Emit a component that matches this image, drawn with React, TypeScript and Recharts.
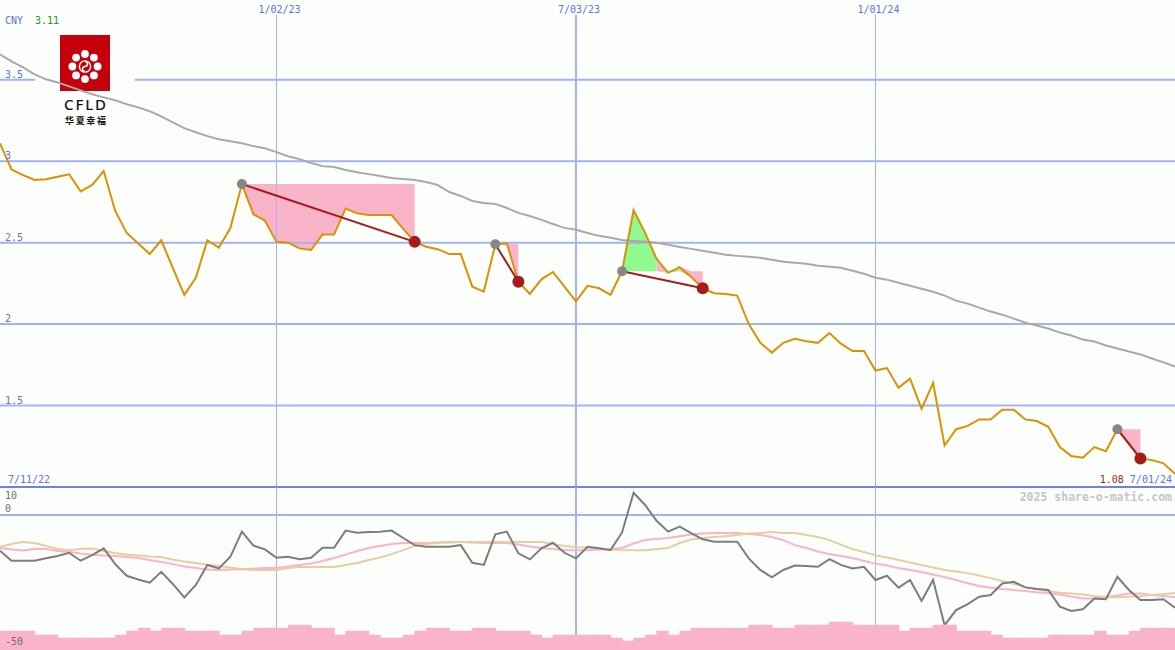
import { Area, Bar, BarChart, ComposedChart, Line, ReferenceLine, XAxis, YAxis } from "recharts";

const MONO = "'DejaVu Sans Mono', monospace";
const BLUE = "#5f70ee";
const GRID = "#a2b2f2";
const BORDER = "#7080e8";
const BG = "#fcfefc";

// weekly points, index 0 = 7/11/22, index 102 = 7/01/24
const dateTicks = [24, 50, 76];
const dateLabels = ["1/02/23", "7/03/23", "1/01/24"];
const priceTicks = [1.5, 2, 2.5, 3, 3.5];
const oscTicks = [10, 0, -50];

const price = [
	3.11, 2.95, 2.915, 2.885, 2.89, 2.905, 2.92, 2.815, 2.855, 2.94,
	2.695, 2.56, 2.495, 2.43, 2.515, 2.345, 2.18, 2.285, 2.515, 2.47,
	2.59, 2.86, 2.675, 2.635, 2.505, 2.5, 2.465, 2.455, 2.55, 2.55,
	2.71, 2.68, 2.67, 2.67, 2.67, 2.585, 2.505, 2.475, 2.46, 2.43,
	2.43, 2.23, 2.2, 2.49, 2.495, 2.26, 2.185, 2.275, 2.32, 2.23,
	2.14, 2.235, 2.22, 2.18, 2.325, 2.7, 2.56, 2.4, 2.315, 2.35,
	2.29, 2.22, 2.19, 2.185, 2.175, 2.0, 1.885, 1.825, 1.885, 1.91,
	1.895, 1.885, 1.945, 1.88, 1.835, 1.835, 1.715, 1.73, 1.61, 1.665,
	1.48, 1.64, 1.255, 1.355, 1.375, 1.415, 1.415, 1.475, 1.475, 1.415,
	1.405, 1.37, 1.245, 1.19, 1.18, 1.245, 1.22, 1.355, 1.265, 1.175,
	1.165, 1.145, 1.08,
];

const priceAvg = [
	3.656, 3.613, 3.576, 3.533, 3.503, 3.484, 3.46, 3.435, 3.411, 3.392,
	3.374, 3.35, 3.331, 3.307, 3.276, 3.239, 3.203, 3.178, 3.154, 3.135,
	3.123, 3.111, 3.093, 3.08, 3.056, 3.031, 3.013, 2.989, 2.97, 2.964,
	2.946, 2.933, 2.921, 2.909, 2.897, 2.891, 2.885, 2.872, 2.854, 2.811,
	2.787, 2.756, 2.744, 2.738, 2.713, 2.683, 2.664, 2.64, 2.615, 2.591,
	2.579, 2.56, 2.542, 2.53, 2.517, 2.511, 2.505, 2.499, 2.487, 2.474,
	2.462, 2.45, 2.438, 2.426, 2.419, 2.413, 2.407, 2.395, 2.383, 2.377,
	2.37, 2.358, 2.352, 2.346, 2.328, 2.309, 2.285, 2.273, 2.254, 2.236,
	2.217, 2.199, 2.175, 2.144, 2.126, 2.101, 2.077, 2.058, 2.034, 2.009,
	1.991, 1.973, 1.948, 1.93, 1.905, 1.893, 1.869, 1.85, 1.832, 1.814,
	1.789, 1.765, 1.74,
];

const oscillator = [
	-13.5, -17.3, -17.3, -17.3, -16.4, -15.5, -14.3, -17.3, -15.2, -12.6,
	-18.6, -23.0, -24.4, -25.6, -21.5, -26.1, -31.2, -26.5, -18.9, -20.2,
	-15.8, -6.3, -11.6, -13.0, -16.2, -15.8, -16.7, -16.2, -12.4, -12.4,
	-5.9, -6.7, -6.4, -6.3, -5.9, -8.7, -11.4, -12.0, -12.0, -12.0,
	-11.4, -18.1, -18.9, -7.3, -6.3, -14.5, -16.8, -12.6, -10.5, -14.3,
	-16.4, -12.0, -12.6, -13.3, -6.6, 8.4, 3.8, -2.2, -6.3, -4.4,
	-6.9, -9.2, -10.1, -10.1, -10.1, -16.4, -20.8, -23.6, -20.8, -19.1,
	-19.3, -19.6, -16.7, -18.9, -20.2, -19.6, -24.6, -23.0, -27.5, -24.6,
	-32.5, -24.6, -41.7, -36.0, -33.7, -30.9, -30.3, -25.9, -25.3, -27.4,
	-28.0, -28.4, -34.7, -36.3, -35.7, -31.6, -31.9, -23.4, -28.4, -32.2,
	-32.2, -31.9, -35.1,
];

const oscFast = [
	-12.5, -13.1, -13.4, -12.9, -12.9, -13.6, -14.0, -14.6, -15.0, -15.3,
	-15.5, -15.9, -16.3, -17.0, -17.8, -18.6, -19.5, -20.1, -20.6, -20.8,
	-20.6, -20.5, -20.3, -20.1, -20.1, -19.5, -18.9, -18.4, -17.4, -16.3,
	-15.0, -13.6, -12.5, -11.7, -11.0, -10.6, -10.6, -10.6, -10.4, -10.2,
	-10.2, -10.4, -10.6, -10.6, -10.6, -11.2, -11.9, -12.5, -12.9, -13.3,
	-13.3, -13.3, -13.1, -12.9, -12.5, -10.8, -9.5, -9.1, -8.7, -8.0,
	-7.4, -7.0, -6.8, -6.8, -6.8, -7.2, -7.6, -8.3, -9.5, -11.4,
	-12.5, -13.8, -14.8, -15.5, -16.3, -17.4, -18.4, -19.1, -20.1, -20.8,
	-21.6, -22.5, -23.5, -24.6, -25.8, -26.9, -27.5, -28.0, -28.4, -28.8,
	-29.2, -29.5, -30.1, -30.9, -31.6, -31.6, -31.1, -30.5, -29.7, -29.7,
	-30.3, -30.7, -31.1,
];

const oscSlow = [
	-12.1, -11.0, -10.2, -10.6, -11.7, -12.9, -13.3, -12.9, -12.7, -13.6,
	-14.4, -15.0, -15.3, -15.7, -15.9, -16.9, -17.6, -18.2, -18.8, -19.3,
	-19.9, -20.5, -20.8, -20.8, -20.8, -20.1, -19.7, -19.7, -19.7, -19.7,
	-18.9, -18.2, -17.0, -16.1, -14.8, -13.3, -11.7, -11.0, -10.6, -10.4,
	-10.2, -10.2, -10.2, -10.2, -10.2, -10.2, -10.2, -10.2, -11.0, -11.7,
	-12.1, -12.3, -12.7, -13.1, -13.3, -13.3, -13.3, -12.9, -12.5, -10.6,
	-9.3, -8.7, -8.3, -8.0, -7.6, -7.0, -6.8, -6.4, -6.8, -6.8,
	-7.6, -8.3, -9.5, -11.2, -12.9, -14.0, -15.2, -16.1, -17.0, -18.0,
	-18.9, -19.9, -20.8, -21.4, -22.0, -22.9, -23.9, -25.0, -26.1, -27.3,
	-28.0, -28.8, -29.4, -29.7, -30.1, -30.7, -31.1, -31.1, -30.9, -30.7,
	-30.3, -29.9, -29.5,
];

// one bar per week interval
const volume = [
	19, 19, 19, 15, 15, 12, 12, 12, 12, 12,
	15, 19, 22, 19, 22, 22, 19, 19, 19, 15,
	15, 19, 22, 22, 22, 25, 25, 22, 22, 15,
	19, 19, 15, 12, 12, 15, 19, 22, 22, 19,
	19, 22, 22, 19, 19, 19, 15, 12, 15, 15,
	15, 15, 15, 12, 9, 12, 15, 19, 15, 19,
	22, 22, 22, 22, 22, 25, 25, 22, 22, 25,
	25, 25, 28, 28, 25, 25, 25, 25, 19, 22,
	22, 25, 25, 19, 19, 19, 15, 12, 12, 12,
	12, 15, 15, 15, 15, 19, 15, 15, 19, 22,
	22, 22,
];

// trend signals: start point -> end point
const zoneStart = [21, 43, 54, 97];
const zoneEnd = [36, 45, 61, 99];
const greenSpans = [[43, 44], [54, 57], [58, 59]];
const pinkSpans = [[21, 36], [44, 45], [57, 58], [59, 61], [97, 99]];

function levelFor(i: number) {
	const z = zoneStart.findIndex((s, k) => i >= s && i <= zoneEnd[k]);
	return price[zoneStart[z]];
}

const mainData = price.map((p, i) => {
	const row: any = { i, price: p, avg: priceAvg[i] };
	zoneStart.forEach((s, k) => {
		row["t" + k] = i === s || i === zoneEnd[k] ? p : null;
	});
	greenSpans.forEach(([a, b], k) => {
		const lv = levelFor(a);
		row["g" + k] = i >= a && i <= b ? [Math.min(p, lv), Math.max(p, lv)] : null;
	});
	pinkSpans.forEach(([a, b], k) => {
		const lv = levelFor(a);
		row["p" + k] = i >= a && i <= b ? [Math.min(p, lv), Math.max(p, lv)] : null;
	});
	return row;
});

const lowerData = oscillator.map((v, i) => ({ i, osc: v, fast: oscFast[i], slow: oscSlow[i] }));
const volumeData = volume.map((v, i) => ({ i, v, osc: oscillator[i] }));

function PriceTick(props: any) {
	return (
		<text x={5} y={props.y - 2} fill={BLUE} fontSize={10} fontFamily={MONO}>
			{props.payload.value}
		</text>
	);
}

function DateTick(props: any) {
	return (
		<text x={props.x + 3} y={13} fill={BLUE} fontSize={10} fontFamily={MONO} textAnchor='middle'>
			{dateLabels[dateTicks.indexOf(props.payload.value)]}
		</text>
	);
}

function EndTick(props: any) {
	if (props.payload.value === 0) {
		return (
			<text x={props.x + 8} y={483} fill={BLUE} fontSize={10} fontFamily={MONO}>
				7/11/22
			</text>
		);
	}
	return (
		<text x={props.x - 3} y={483} fontSize={10} fontFamily={MONO} textAnchor='end'>
			<tspan fill='#a01c1c'>{price[price.length - 1].toFixed(2)}</tspan>
			<tspan fill={BLUE}> 7/01/24</tspan>
		</text>
	);
}

function OscTick(props: any) {
	const v = props.payload.value;
	const dy = v === 10 ? 10 : v === 0 ? -3 : -2;
	return (
		<text x={5} y={props.y + dy} fill='#6e6e6e' fontSize={10} fontFamily={MONO}>
			{v}
		</text>
	);
}

const trendDot = (k: number) => (props: any) => {
	const { cx, cy, index, value } = props;
	if (value == null || cy == null) return <g key={`n${k}-${index}`} />;
	const isStart = index === zoneStart[k];
	return (
		<circle
			key={`d${k}-${index}`}
			cx={cx}
			cy={cy}
			r={isStart ? 5 : 6}
			fill={isStart ? "#878787" : "#a41c1c"}
		/>
	);
};

function Logo() {
	const ring = [0, 45, 90, 135, 180, 225, 270, 315];
	return (
		<g>
			<rect x={60} y={35} width={50} height={56} fill='#c4000c' />
			{ring.map((a) => (
				<circle
					key={a}
					cx={85 + 12.6 * Math.sin((a * Math.PI) / 180)}
					cy={66.5 - 12.6 * Math.cos((a * Math.PI) / 180)}
					r={3.9}
					fill='#fff'
				/>
			))}
			<circle cx={85} cy={66.5} r={5.6} fill='none' stroke='#fff' strokeWidth={1.4} />
			<path d='M85 61.5 a2.5 2.5 0 0 1 0 5 a2.5 2.5 0 0 0 0 5' stroke='#fff' strokeWidth={1.4} fill='none' />
			<text x={64} y={109.5} fontSize={15} fontFamily="'Noto Sans', sans-serif" fontWeight={500} fill='#151515' textLength={42}>
				CFLD
			</text>
			<text x={65} y={123.5} fontSize={9} fontFamily="'Noto Sans CJK SC', sans-serif" fontWeight={700} fill='#151515' textLength={41}>
				华夏幸福
			</text>
		</g>
	);
}

export default function App() {
	return (
		<div style={{ position: "absolute", left: 0, top: 0, width: 1175, height: 650, background: BG, overflow: "hidden" }}>
			<svg width={1175} height={650} style={{ position: "absolute", left: 0, top: 0 }}>
				<Logo />
				<text x={5} y={24} fontSize={10} fontFamily={MONO}>
					<tspan fill={BLUE}>CNY</tspan>
					<tspan fill='#1a9a1a' dx={12}>{price[0].toFixed(2)}</tspan>
				</text>
				<text x={1172} y={501} fontSize={11.5} fontWeight={700} fontFamily={MONO} fill='#c6c6c6' textAnchor='end'>
					2025 share-o-matic.com
				</text>
			</svg>

			<div style={{ position: "absolute", left: 0, top: 0 }}>
				<ComposedChart width={1175} height={490} data={mainData} margin={{ top: 0, right: 0, bottom: 3, left: 0 }}>
					<XAxis dataKey='i' type='number' domain={[0, 102]} ticks={dateTicks} interval={0} orientation='top' mirror axisLine={false} tickLine={false} tick={DateTick} />
					<XAxis xAxisId='ends' dataKey='i' type='number' domain={[0, 102]} ticks={[0, 102]} interval={0} orientation='bottom' mirror axisLine={false} tickLine={false} tick={EndTick} />
					<YAxis type='number' domain={[1, 3.99]} ticks={priceTicks} interval={0} mirror axisLine={false} tickLine={false} tick={PriceTick} />

					{[1.5, 2, 2.5, 3].map((v) => (
						<ReferenceLine key={v} y={v} stroke={GRID} strokeWidth={2} />
					))}
					<ReferenceLine segment={[{ x: 0, y: 3.5 }, { x: 3.05, y: 3.5 }]} stroke={GRID} strokeWidth={2} />
					<ReferenceLine segment={[{ x: 11.7, y: 3.5 }, { x: 102, y: 3.5 }]} stroke={GRID} strokeWidth={2} />
					{dateTicks.map((d, k) => (
						<ReferenceLine key={d} segment={[{ x: d, y: 3.9 }, { x: d, y: 1 }]} stroke={GRID} strokeWidth={k === 1 ? 2 : 1} />
					))}
					<ReferenceLine y={1} stroke={BORDER} strokeWidth={2} />

					{pinkSpans.map((_, k) => (
						<Area key={"p" + k} dataKey={"p" + k} type='linear' stroke='none' fill='#fab4c9' fillOpacity={1} isAnimationActive={false} dot={false} activeDot={false} />
					))}
					{greenSpans.map((_, k) => (
						<Area key={"g" + k} dataKey={"g" + k} type='linear' stroke='none' fill='#92f890' fillOpacity={1} isAnimationActive={false} dot={false} activeDot={false} />
					))}

					<Line dataKey='avg' type='linear' stroke='#a9a9a9' strokeWidth={2} dot={false} activeDot={false} isAnimationActive={false} />
					<Line dataKey='price' type='linear' stroke='#da9300' strokeWidth={2} dot={false} activeDot={false} isAnimationActive={false} />

					{zoneStart.map((_, k) => (
						<Line
							key={"t" + k}
							dataKey={"t" + k}
							type='linear'
							stroke='#a41c1c'
							strokeWidth={2}
							connectNulls
							dot={trendDot(k)}
							activeDot={false}
							isAnimationActive={false}
						/>
					))}
				</ComposedChart>
			</div>

			<div style={{ position: "absolute", left: 0, top: 487 }}>
				<ComposedChart width={1175} height={163} data={lowerData} margin={{ top: 0, right: 0, bottom: 0, left: 0 }}>
					<XAxis dataKey='i' type='number' domain={[0, 102]} hide />
					<YAxis type='number' domain={[-51.1, 10.6]} hide />
					<ReferenceLine y={0} stroke={GRID} strokeWidth={2} />
					{dateTicks.map((d, k) => (
						<ReferenceLine key={d} x={d} stroke={GRID} strokeWidth={k === 1 ? 2 : 1} />
					))}
					<Line dataKey='fast' type='linear' stroke='#fdb2c8' strokeWidth={2} dot={false} activeDot={false} isAnimationActive={false} />
					<Line dataKey='slow' type='linear' stroke='#e6cf9e' strokeWidth={2} dot={false} activeDot={false} isAnimationActive={false} />
					<Line dataKey='osc' type='linear' stroke='#7d7d7d' strokeWidth={2} dot={false} activeDot={false} isAnimationActive={false} />
				</ComposedChart>
			</div>

			{/* volume on top: the week lines stop at the bars, the scale labels sit over them */}
			<div style={{ position: "absolute", left: 0, top: 487 }}>
				<BarChart width={1175} height={163} data={volumeData} margin={{ top: 0, right: 0, bottom: 0, left: 0 }} barCategoryGap={0} barGap={0}>
					<XAxis dataKey='i' hide />
					<YAxis dataKey='osc' type='number' domain={[-51.1, 10.6]} allowDataOverflow ticks={oscTicks} interval={0} mirror axisLine={false} tickLine={false} tick={OscTick} />
					<YAxis yAxisId='vol' type='number' domain={[0, 163]} hide />
					<Bar yAxisId='vol' dataKey='v' fill='#fab4c9' stroke='#fab4c9' strokeWidth={0.5} isAnimationActive={false} />
				</BarChart>
			</div>
		</div>
	);
}
